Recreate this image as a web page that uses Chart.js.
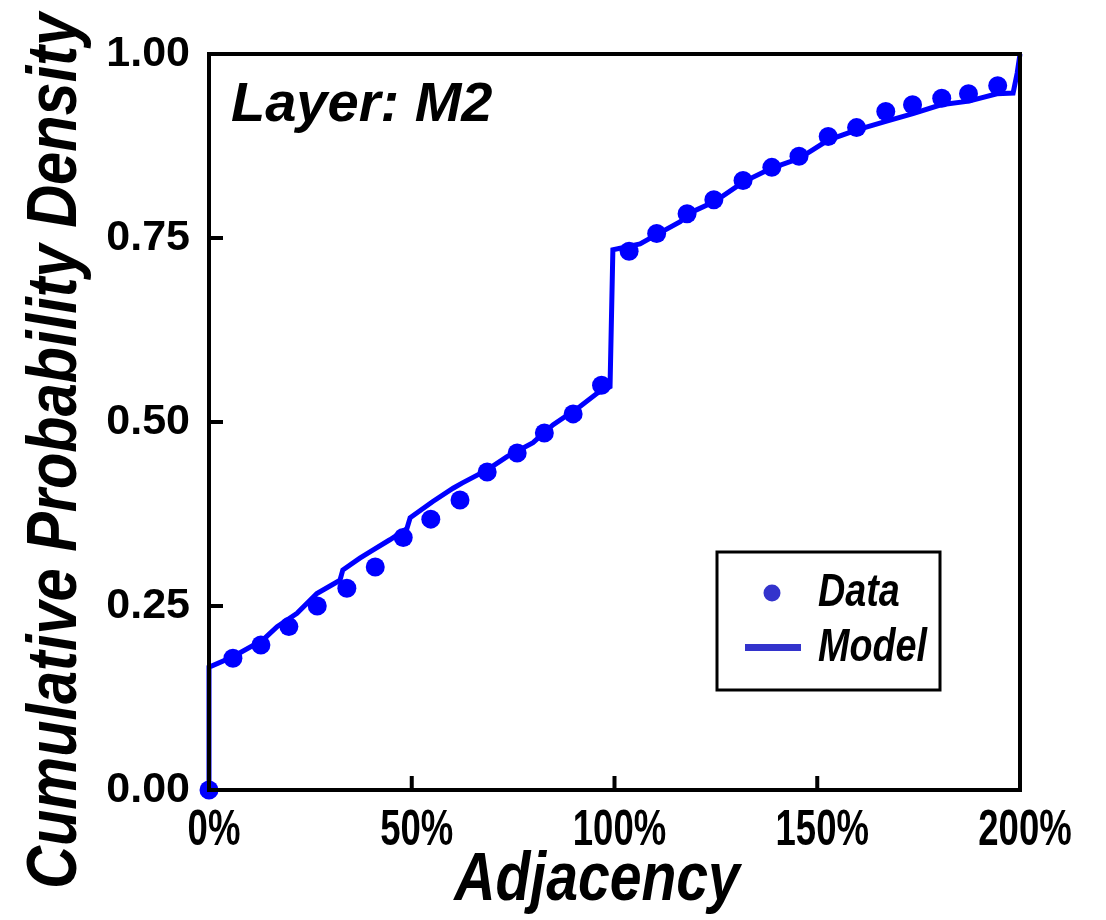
<!DOCTYPE html>
<html>
<head>
<meta charset="utf-8">
<script src="https://cdn.jsdelivr.net/npm/chart.js@4.4.1/dist/chart.umd.min.js"></script>
<style>
  body { margin: 0; background: #fff; }
  #wrap { width: 1106px; height: 920px; }
</style>
</head>
<body>
<div id="wrap"><canvas id="cdf" width="1106" height="920"></canvas></div>
<script>
// measured points (adjacency %, cumulative prob.)
var dataX = [0, 5.9, 12.8, 19.7, 26.7, 34.0, 41.0, 47.9, 54.7, 61.9, 68.6, 76.0, 82.7, 89.8, 96.8,
             103.6, 110.4, 117.9, 124.5, 131.7, 138.8, 145.5, 152.7, 159.7, 166.9, 173.5, 180.7, 187.3, 194.5];
var dataY = [0.000, 0.179, 0.197, 0.222, 0.250, 0.274, 0.303, 0.343, 0.368, 0.394, 0.432, 0.458, 0.485, 0.511, 0.550,
             0.732, 0.756, 0.783, 0.802, 0.828, 0.846, 0.861, 0.888, 0.900, 0.922, 0.931, 0.940, 0.946, 0.957];

// model curve
var modelX = [0, 0, 5.9, 13.3, 16.8, 21.7, 26.6, 32.3, 33.0, 37.2, 40.4, 44.6, 48.8, 49.6, 55.2, 60.2, 62.4,
              68.6, 73.5, 79.9, 84.8, 91.5, 95.7, 98.9, 99.6, 106.3, 110.5, 116.2, 118.6, 124.8, 131.7,
              138.8, 145.5, 152.7, 159.8, 166.7, 173.6, 180.5, 187.4, 194.3, 198.3, 199.3, 200];
var modelY = [0, 0.167, 0.181, 0.204, 0.222, 0.240, 0.267, 0.285, 0.299, 0.315, 0.326, 0.340, 0.355, 0.370, 0.392, 0.410, 0.417,
              0.435, 0.453, 0.472, 0.496, 0.521, 0.539, 0.548, 0.734, 0.742, 0.755, 0.772, 0.784, 0.800, 0.826,
              0.845, 0.858, 0.883, 0.897, 0.908, 0.919, 0.931, 0.936, 0.946, 0.947, 0.974, 1.0];

var xTicks = [0, 50, 100, 150, 200];
var yTicks = [0, 0.25, 0.5, 0.75, 1.0];

var face = "'Liberation Sans', Arial, sans-serif";

function pairs(xs, ys) {
  return xs.map(function (x, i) { return { x: x, y: ys[i] }; });
}

// no narrow face installed, so squeeze Liberation Sans horizontally
function narrowText(ctx, txt, x, y, font, sx, align) {
  ctx.save();
  ctx.translate(x, y);
  ctx.scale(sx, 1);
  ctx.font = font;
  ctx.textAlign = align || 'left';
  ctx.textBaseline = 'alphabetic';
  ctx.fillText(txt, 0, 0);
  ctx.restore();
}

// frame, inward ticks, x labels, titles, annotation and boxed legend
var extras = {
  id: 'extras',
  afterDraw: function (chart) {
    var ctx = chart.ctx;
    var a = chart.chartArea;
    var xs = chart.scales.x, ys = chart.scales.y;
    ctx.save();
    ctx.strokeStyle = '#000';
    ctx.lineWidth = 4;
    ctx.strokeRect(a.left, a.top, a.right - a.left, a.bottom - a.top);
    ctx.beginPath();
    yTicks.forEach(function (v) {
      var p = ys.getPixelForValue(v);
      ctx.moveTo(a.left, p); ctx.lineTo(a.left + 14, p);
    });
    xTicks.forEach(function (v) {
      var p = xs.getPixelForValue(v);
      ctx.moveTo(p, a.bottom); ctx.lineTo(p, a.bottom - 14);
    });
    ctx.stroke();

    ctx.fillStyle = '#000';
    xTicks.forEach(function (v) {
      narrowText(ctx, v + '%', xs.getPixelForValue(v) + 5, 845, 'bold 50px ' + face, 0.73, 'center');
    });

    ctx.font = 'italic bold 56px ' + face;
    ctx.textAlign = 'left';
    ctx.textBaseline = 'alphabetic';
    ctx.fillText('Layer: M2', 231, 121);

    // legend
    ctx.lineWidth = 3;
    ctx.strokeRect(717, 552, 223, 138);
    ctx.fillStyle = '#3333cc';
    ctx.beginPath();
    ctx.arc(772, 593, 8.5, 0, Math.PI * 2);
    ctx.fill();
    ctx.fillRect(745, 644, 56, 7);
    ctx.fillStyle = '#000';
    narrowText(ctx, 'Data', 818, 606, 'italic bold 46px ' + face, 0.82);
    narrowText(ctx, 'Model', 818, 661, 'italic bold 46px ' + face, 0.82);

    // axis titles
    narrowText(ctx, 'Adjacency', 597, 900, 'italic bold 68px ' + face, 0.84, 'center');
    ctx.translate(76, 451);
    ctx.rotate(-Math.PI / 2);
    narrowText(ctx, 'Cumulative Probability Density', 0, 0, 'italic bold 70px ' + face, 0.85, 'center');
    ctx.restore();
  }
};

new Chart(document.getElementById('cdf'), {
  type: 'scatter',
  data: {
    datasets: [
      {
        label: 'Data',
        data: pairs(dataX, dataY),
        pointRadius: 9.5,
        pointBackgroundColor: '#0000ff',
        pointBorderWidth: 0,
        showLine: false,
        clip: false
      },
      {
        label: 'Model',
        data: pairs(modelX, modelY),
        showLine: true,
        borderColor: '#0000ff',
        borderWidth: 5,
        pointRadius: 0,
        tension: 0,
        clip: false
      }
    ]
  },
  options: {
    responsive: false,
    animation: false,
    layout: { padding: { top: 54, right: 86, left: 0, bottom: 0 } },
    plugins: { legend: { display: false }, tooltip: { enabled: false } },
    scales: {
      x: {
        type: 'linear', min: 0, max: 200,
        afterBuildTicks: function (s) { s.ticks = xTicks.map(function (v) { return { value: v }; }); },
        afterFit: function (s) { s.height = 130; },
        grid: { display: false, drawTicks: false },
        border: { display: false },
        ticks: { display: false }
      },
      y: {
        min: 0, max: 1,
        afterBuildTicks: function (s) { s.ticks = yTicks.map(function (v) { return { value: v }; }); },
        afterFit: function (s) { s.width = 209; },
        grid: { display: false, drawTicks: false },
        border: { display: false },
        ticks: {
          color: '#000', padding: 19,
          font: { family: face, weight: 'bold', size: 43 },
          callback: function (v) { return v.toFixed(2); }
        }
      }
    }
  },
  plugins: [extras]
});
</script>
</body>
</html>
